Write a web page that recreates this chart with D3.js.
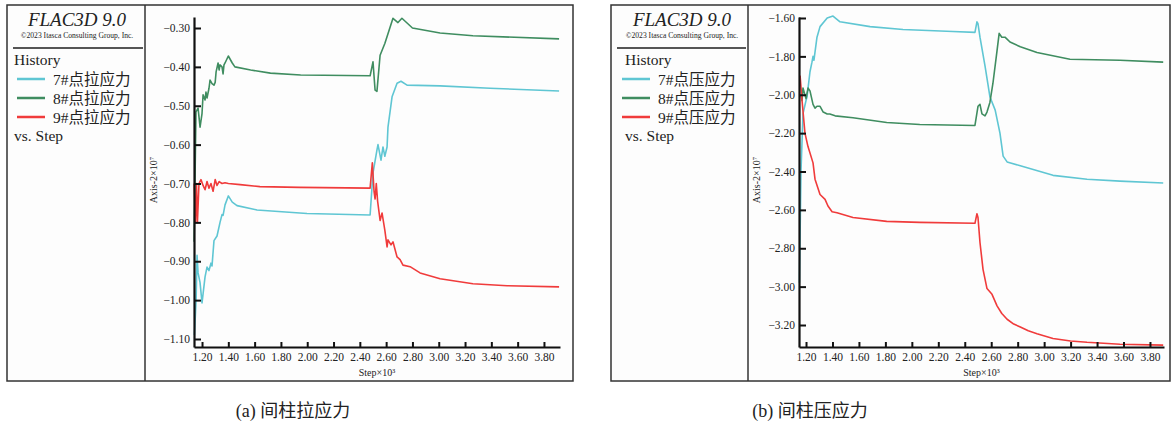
<!DOCTYPE html>
<html>
<head>
<meta charset="utf-8">
<script src="https://cdn.jsdelivr.net/npm/d3@7"></script>
<style>
  body { margin: 0; background: #fff; }
  svg { display: block; }
  text { font-family: "Liberation Serif", "Noto Sans CJK SC", serif; fill: #222; }
</style>
</head>
<body>
<div id="chart"></div>
<script>
// step values are in units of 10^3, stress in units of 10^7
var stepTicks = [1.2, 1.4, 1.6, 1.8, 2.0, 2.2, 2.4, 2.6, 2.8, 3.0, 3.2, 3.4, 3.6, 3.8];
var tensionTicks = [-0.3, -0.4, -0.5, -0.6, -0.7, -0.8, -0.9, -1.0, -1.1];
var compTicks = [-1.6, -1.8, -2.0, -2.2, -2.4, -2.6, -2.8, -3.0, -3.2];

var tensionNames = ["7#点拉应力", "8#点拉应力", "9#点拉应力"];
var compNames = ["7#点压应力", "8#点压应力", "9#点压应力"];
var colors = ["#5fc6d3", "#3f8d60", "#f03b3b"];

// (a) tension
var tension7 = [[1.142,-1.09],[1.155,-1.0],[1.162,-0.885],[1.17,-0.93],[1.185,-0.955],[1.20,-1.007],[1.208,-0.984],[1.223,-0.94],[1.238,-0.915],[1.253,-0.924],[1.268,-0.905],[1.276,-0.912],[1.291,-0.847],[1.314,-0.835],[1.337,-0.80],[1.352,-0.78],[1.36,-0.782],[1.375,-0.755],[1.40,-0.732],[1.43,-0.748],[1.466,-0.757],[1.618,-0.768],[1.998,-0.777],[2.478,-0.781],[2.50,-0.673],[2.53,-0.614],[2.538,-0.60],[2.561,-0.64],[2.576,-0.606],[2.59,-0.63],[2.607,-0.606],[2.614,-0.555],[2.645,-0.477],[2.683,-0.442],[2.713,-0.437],[2.759,-0.447],[3.01,-0.449],[3.39,-0.455],[3.915,-0.462]];
var tension8 = [[1.14,-0.85],[1.154,-0.516],[1.17,-0.506],[1.185,-0.555],[1.20,-0.52],[1.208,-0.472],[1.223,-0.485],[1.23,-0.465],[1.238,-0.48],[1.253,-0.455],[1.261,-0.434],[1.276,-0.443],[1.291,-0.447],[1.30,-0.44],[1.307,-0.413],[1.322,-0.39],[1.33,-0.408],[1.337,-0.395],[1.352,-0.40],[1.36,-0.418],[1.367,-0.395],[1.375,-0.39],[1.40,-0.372],[1.43,-0.39],[1.45,-0.40],[1.57,-0.408],[1.72,-0.416],[1.95,-0.421],[2.478,-0.423],[2.50,-0.387],[2.516,-0.46],[2.53,-0.463],[2.554,-0.37],[2.59,-0.34],[2.652,-0.275],[2.69,-0.286],[2.72,-0.275],[2.80,-0.30],[3.01,-0.313],[3.26,-0.32],[3.915,-0.328]];
var tension9 = [[1.14,-0.70],[1.15,-0.80],[1.158,-0.70],[1.165,-0.80],[1.177,-0.70],[1.192,-0.69],[1.208,-0.705],[1.223,-0.716],[1.238,-0.695],[1.253,-0.712],[1.268,-0.70],[1.284,-0.72],[1.30,-0.69],[1.314,-0.705],[1.33,-0.695],[1.352,-0.70],[1.375,-0.698],[1.40,-0.70],[1.49,-0.703],[1.64,-0.708],[1.94,-0.71],[2.478,-0.712],[2.495,-0.647],[2.508,-0.72],[2.516,-0.74],[2.525,-0.70],[2.535,-0.745],[2.554,-0.795],[2.569,-0.776],[2.59,-0.82],[2.607,-0.863],[2.614,-0.845],[2.637,-0.858],[2.652,-0.85],[2.683,-0.889],[2.706,-0.896],[2.728,-0.91],[2.782,-0.914],[2.858,-0.93],[3.01,-0.945],[3.26,-0.958],[3.52,-0.963],[3.915,-0.966]];

// (b) compression
var comp7 = [[1.150,-2.98],[1.162,-2.40],[1.177,-2.10],[1.20,-2.03],[1.208,-2.01],[1.23,-1.88],[1.245,-1.83],[1.253,-1.80],[1.26,-1.82],[1.283,-1.70],[1.306,-1.645],[1.36,-1.60],[1.404,-1.59],[1.457,-1.62],[1.684,-1.645],[1.933,-1.66],[2.31,-1.67],[2.477,-1.675],[2.492,-1.62],[2.50,-1.63],[2.515,-1.70],[2.553,-1.85],[2.59,-2.01],[2.63,-2.08],[2.666,-2.20],[2.69,-2.32],[2.72,-2.35],[2.82,-2.37],[3.067,-2.42],[3.324,-2.44],[3.573,-2.45],[3.90,-2.46]];
var comp8 = [[1.162,-2.00],[1.17,-2.03],[1.177,-1.965],[1.20,-2.02],[1.215,-1.965],[1.23,-1.98],[1.253,-2.05],[1.268,-2.07],[1.283,-2.06],[1.306,-2.06],[1.33,-2.09],[1.36,-2.10],[1.38,-2.10],[1.42,-2.11],[1.555,-2.12],[1.81,-2.145],[2.06,-2.155],[2.477,-2.16],[2.50,-2.06],[2.515,-2.05],[2.53,-2.10],[2.553,-2.11],[2.568,-2.09],[2.59,-2.04],[2.613,-1.94],[2.644,-1.77],[2.66,-1.68],[2.68,-1.70],[2.704,-1.70],[2.742,-1.725],[2.82,-1.75],[2.946,-1.78],[3.195,-1.815],[3.573,-1.82],[3.90,-1.83]];
var comp9 = [[1.155,-1.90],[1.17,-2.03],[1.192,-2.20],[1.215,-2.27],[1.253,-2.355],[1.268,-2.44],[1.306,-2.52],[1.344,-2.545],[1.366,-2.58],[1.397,-2.61],[1.434,-2.615],[1.555,-2.64],[1.81,-2.66],[2.06,-2.665],[2.477,-2.67],[2.492,-2.62],[2.50,-2.64],[2.515,-2.77],[2.538,-2.91],[2.568,-3.01],[2.606,-3.04],[2.644,-3.10],[2.68,-3.14],[2.72,-3.17],[2.77,-3.195],[2.82,-3.21],[2.88,-3.23],[2.946,-3.245],[3.067,-3.27],[3.2,-3.283],[3.324,-3.29],[3.573,-3.30],[3.90,-3.305]];

var svg = d3.select("#chart").append("svg")
  .attr("width", 1174)
  .attr("height", 425);

function panel(opt) {
  var g = svg.append("g");

  // frame and divider
  g.append("rect")
    .attr("x", opt.frame[0]).attr("y", 5)
    .attr("width", opt.frame[1] - opt.frame[0]).attr("height", 376)
    .attr("fill", "#fdfdfd").attr("stroke", "#333").attr("stroke-width", 1.5);
  g.append("line")
    .attr("x1", opt.divider).attr("x2", opt.divider)
    .attr("y1", 5).attr("y2", 381)
    .attr("stroke", "#333").attr("stroke-width", 1.5);

  // legend block
  g.append("text").attr("x", opt.titleX).attr("y", 26)
    .attr("text-anchor", "middle").attr("font-style", "italic")
    .attr("font-size", 19).text("FLAC3D 9.0");
  g.append("text").attr("x", opt.titleX).attr("y", 38)
    .attr("text-anchor", "middle").attr("font-size", 7.6)
    .text("©2023 Itasca  Consulting Group, Inc.");
  g.append("line")
    .attr("x1", opt.frame[0] + 6).attr("x2", opt.divider - 2)
    .attr("y1", 48).attr("y2", 48)
    .attr("stroke", "#555").attr("stroke-width", 2);
  g.append("text").attr("x", opt.legendX).attr("y", 65).attr("font-size", 15.5).text("History");
  opt.names.forEach(function(n, i) {
    var yy = 79 + i * 19;
    g.append("line")
      .attr("x1", opt.swatchX).attr("x2", opt.swatchX + 28)
      .attr("y1", yy).attr("y2", yy)
      .attr("stroke", colors[i]).attr("stroke-width", 2.5);
    g.append("text").attr("x", opt.swatchX + 36).attr("y", yy + 6)
      .attr("font-size", 15.5).text(n);
  });
  g.append("text").attr("x", opt.legendX).attr("y", 141).attr("font-size", 15.5).text("vs. Step");

  var x = d3.scaleLinear().domain(opt.xDomain).range(opt.xRange);
  var y = d3.scaleLinear().domain(opt.yDomain).range([347, 17]);

  var line = d3.line()
    .x(function(d) { return x(d[0]); })
    .y(function(d) { return y(d[1]); });

  opt.series.forEach(function(s, i) {
    g.append("path")
      .datum(s)
      .attr("fill", "none")
      .attr("stroke", colors[i])
      .attr("stroke-width", 1.6)
      .attr("stroke-linejoin", "round")
      .attr("d", line);
  });

  var xa = g.append("g")
    .attr("transform", "translate(0,347)")
    .call(d3.axisBottom(x).tickValues(stepTicks).tickFormat(d3.format(".2f"))
      .tickSizeInner(-5).tickSizeOuter(0).tickPadding(6));
  var ya = g.append("g")
    .attr("transform", "translate(" + opt.xRange[0] + ",0)")
    .call(d3.axisLeft(y).tickValues(opt.yTicks).tickFormat(d3.format(".2f"))
      .tickSizeInner(-7).tickSizeOuter(0).tickPadding(4));
  [xa, ya].forEach(function(a) {
    a.select(".domain").attr("stroke", "#111").attr("stroke-width", 2.2);
    a.selectAll(".tick line").attr("stroke", "#111").attr("stroke-width", 2);
    a.selectAll(".tick text")
      .style("font-family", "'Liberation Serif', serif")
      .style("font-size", "11.5px").style("fill", "#222");
  });

  g.append("text")
    .attr("x", (opt.xRange[0] + opt.xRange[1]) / 2).attr("y", 376)
    .attr("text-anchor", "middle").attr("font-size", 10)
    .text("Step×10³");
  g.append("text")
    .attr("transform", "translate(" + (opt.divider + 12) + ",180) rotate(-90)")
    .attr("text-anchor", "middle").attr("font-size", 10)
    .text("Axis-2×10⁷");

  g.append("text")
    .attr("x", opt.captionX).attr("y", 417)
    .attr("text-anchor", "middle").attr("font-size", 18)
    .text(opt.caption);
}

panel({
  frame: [7, 573], divider: 145, titleX: 77, legendX: 14, swatchX: 17,
  names: tensionNames, series: [tension7, tension8, tension9],
  xDomain: [1.139, 3.922], xRange: [194, 560],
  yDomain: [-1.1206, -0.2717], yTicks: tensionTicks,
  caption: "(a) 间柱拉应力", captionX: 293
});
panel({
  frame: [611, 1170], divider: 748, titleX: 682, legendX: 625, swatchX: 622,
  names: compNames, series: [comp7, comp8, comp9],
  xDomain: [1.147, 3.906], xRange: [799, 1164],
  yDomain: [-3.3146, -1.5948], yTicks: compTicks,
  caption: "(b) 间柱压应力", captionX: 810
});
</script>
</body>
</html>
